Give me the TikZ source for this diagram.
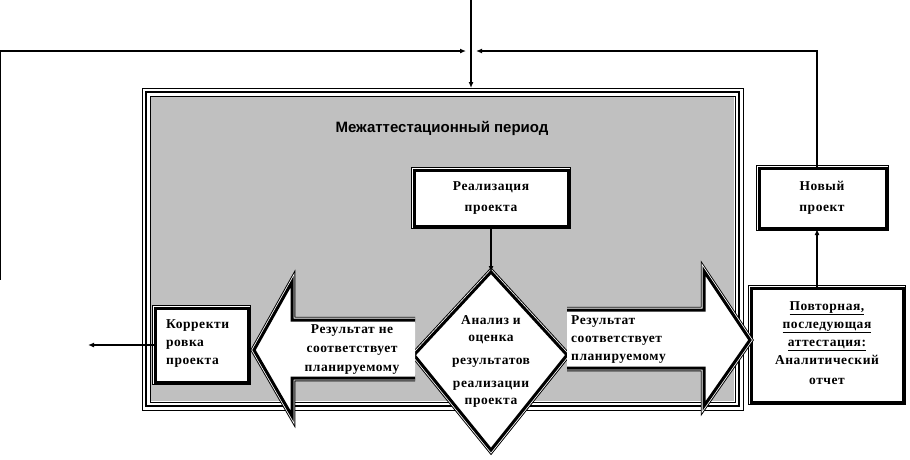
\documentclass[tikz,border=0pt]{standalone}
\usepackage{fontspec}
\setmainfont{Liberation Serif}[LetterSpace=4]
\setsansfont{Liberation Sans}
\usetikzlibrary{arrows.meta}
\begin{document}
\begin{tikzpicture}[x=1pt,y=-1pt,
  tri/.style={preaction={draw=black,line width=6.5pt},preaction={draw=white,line width=4.6pt},draw=black,line width=3pt},
  lbl/.style={font=\bfseries\fontsize{13.5}{15}\selectfont,inner sep=0pt},
  conn/.style={line width=1.3pt,-{Latex[length=6pt,width=5pt]}},
  wire/.style={line width=1.3pt}]
\useasboundingbox (0,0) rectangle (910,459);
% outer grey period box
\filldraw[fill=white,draw=black,line width=1pt] (142,88) rectangle (743,410);
\draw[black,line width=2.4pt] (146,92) rectangle (739,406);
\draw[black,line width=0.6pt] (150,96) rectangle (735,402);
\fill[fill={rgb,255:red,192;green,192;blue,192}] (151,97) rectangle (734,401);
\node[font=\sffamily\bfseries\fontsize{15}{17}\selectfont] (title) at (442,128) {Межаттестационный период};
% top connectors
\coordinate (top) at (471,0);
\coordinate (boxtop) at (471,88);
\draw[conn] (top) -- (boxtop);
\coordinate (l1) at (0,280); \coordinate (l2) at (0,51); \coordinate (l3) at (466,51);
\draw[wire,-{Latex[length=6pt,width=5pt]}] (l1) -- (l2) -- (l3);
% boxes
\draw[tri,fill=white] (414,170) rectangle (568,226);
\node[lbl,align=center] (real) at (491,198) {Реализация\\[6pt]проекта};
\draw[tri,fill=white] (759,168) rectangle (886,228);
\node[lbl,align=center] (new) at (822,198) {Новый\\[6pt]проект};
\draw[tri,fill=white] (751,288) rectangle (903,402);
\node[lbl,align=center] (rep) at (827,343) {\underline{Повторная,}\\[3pt]\underline{последующая}\\[3pt]\underline{аттестация:}\\[3pt]Аналитический\\[5pt]отчет};
\draw[tri,fill=white] (155,308) rectangle (248,382);
\node[lbl,align=left,anchor=west] (kor) at (166,344) {Корректи\\[3pt]ровка\\[3pt]проекта};
% diamond
\coordinate (dT) at (491,272);
\draw[tri,fill=white] (dT) -- (567,355) -- (491,450) -- (414,355) -- cycle;
\node[lbl,align=center] (dia) at (491,361) {Анализ и\\[2pt]оценка\\[8pt]результатов\\[8pt]реализации\\[2pt]проекта};
% left arrow
\draw[tri,fill=white] (415,320) -- (292,320) -- (292,282) -- (254,350) -- (292,416) -- (292,378) -- (415,378);
\node[lbl,align=center] (no) at (352,350) {Результат не\\[4pt]соответствует\\[4pt]планируемому};
% right arrow
\draw[tri,fill=white] (567,310) -- (704,310) -- (704,271) -- (750,340) -- (704,406) -- (704,368) -- (567,368);
\node[lbl,align=left,anchor=west] (yes) at (571,340) {Результат\\[3pt]соответствует\\[3pt]планируемому};
% connectors
\draw[conn] (real.south |- 0,228) -- (dT);
\coordinate (out) at (88,345);
\draw[conn] (155,345) -- (out);
\draw[conn] (817,288) -- (817,229);
\coordinate (r1) at (817,51); \coordinate (r2) at (476,51);
\draw[wire,-{Latex[length=6pt,width=5pt]}] (817,168) -- (r1) -- (r2);
\end{tikzpicture}
\end{document}
